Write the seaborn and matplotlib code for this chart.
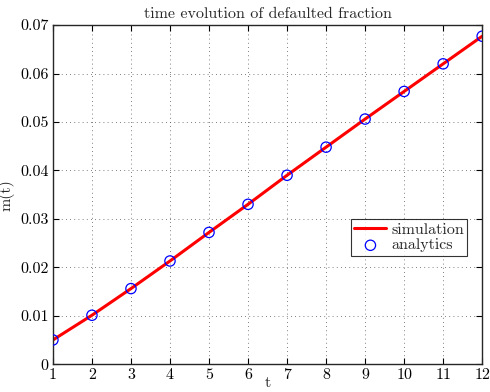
import numpy as np
import pandas as pd
import matplotlib
matplotlib.use("Agg")
import matplotlib.pyplot as plt
import seaborn as sns

# data
t = [1, 2, 3, 4, 5, 6, 7, 8, 9, 10, 11, 12]
simulation = [0.0050, 0.0101, 0.0156, 0.0213, 0.0272, 0.0330,
              0.0390, 0.0448, 0.0506, 0.0563, 0.0620, 0.0677]
analytics = [0.0050, 0.0101, 0.0156, 0.0213, 0.0272, 0.0330,
             0.0390, 0.0448, 0.0506, 0.0563, 0.0620, 0.0677]

df = pd.DataFrame({"t": t, "simulation": simulation, "analytics": analytics})

sns.set_style("ticks")
plt.rcParams["font.family"] = ["cmr10", "DejaVu Serif"]
plt.rcParams["axes.unicode_minus"] = False
plt.rcParams["mathtext.fontset"] = "cm"

fs = 11.5
fig = plt.figure(figsize=(4.9, 3.92), dpi=100)
ax = fig.add_axes([0.108, 0.071, 0.876, 0.865])

sns.lineplot(data=df, x="t", y="simulation", color="red", linewidth=2.2,
             label="simulation", ax=ax)
sns.scatterplot(data=df, x="t", y="analytics", marker="o", s=55,
                facecolors="none", edgecolor="blue", linewidth=0.9,
                label="analytics", ax=ax, zorder=3)

ax.set_xlim(1, 12)
ax.set_ylim(0, 0.07)
ax.set_xticks(range(1, 13))
ax.set_yticks([0, 0.01, 0.02, 0.03, 0.04, 0.05, 0.06, 0.07])
ax.set_yticklabels(["0", "0.01", "0.02", "0.03", "0.04", "0.05", "0.06", "0.07"])

ax.grid(True, linestyle=(0, (1, 4)), color="#555555", linewidth=0.6)
ax.tick_params(direction="in", top=True, right=True, labelsize=fs, length=4,
               width=0.8, colors="black", pad=3)
for sp in ax.spines.values():
    sp.set_visible(True)
    sp.set_linewidth(1.0)

ax.set_title("time evolution of defaulted fraction", fontsize=fs, pad=5)
ax.set_xlabel("t", fontsize=fs, labelpad=-4)
ax.set_ylabel("m(t)", fontsize=fs, labelpad=4)

leg = ax.legend(loc="lower right", bbox_to_anchor=(0.965, 0.32), fontsize=fs,
                frameon=True, fancybox=False, edgecolor="black",
                borderpad=0.2, handlelength=2.0, handletextpad=0.3,
                labelspacing=0.1, borderaxespad=0)
leg.get_frame().set_linewidth(0.8)

fig.savefig("out.png", dpi=100)
